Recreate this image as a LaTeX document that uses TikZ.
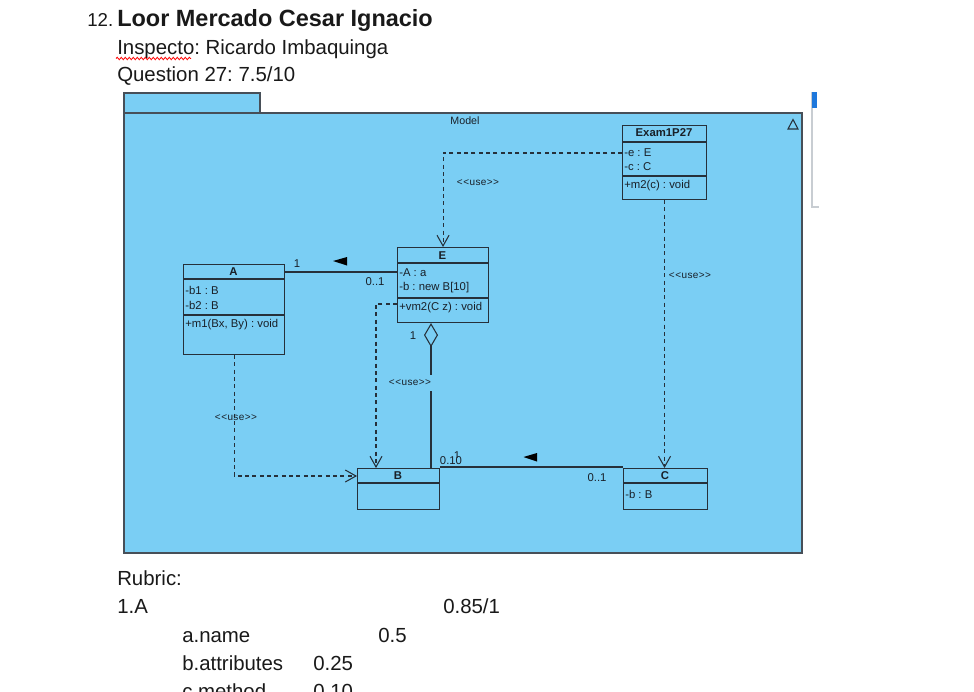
\documentclass[tikz,border=0pt]{standalone}
\usepackage{fontspec}
\setmainfont{Liberation Sans}
\usetikzlibrary{arrows.meta,calc,decorations.pathmorphing}
\definecolor{pkgblue}{RGB}{122,206,244}
\definecolor{linecol}{RGB}{38,48,58}
\definecolor{txtcol}{RGB}{25,32,40}
\definecolor{pagetxt}{RGB}{25,25,25}
\definecolor{panelblue}{RGB}{30,120,220}
\definecolor{panelgray}{RGB}{200,205,210}
\newcommand{\uselabeltext}{<\kern0.4pt<\kern0.4pt u\kern0.2pt s\kern0.2pt e\kern0.4pt>\kern0.4pt>}
\frenchspacing
\begin{document}
\begin{tikzpicture}[x=0.75pt,y=-0.75pt,
  classbox/.style={draw=linecol, line width=0.8pt, fill=pkgblue, inner sep=0pt, anchor=north west},
  sepline/.style={draw=linecol, line width=0.8pt},
  cname/.style={font=\fontsize{8.5}{10}\selectfont\bfseries, text=txtcol, inner sep=0pt},
  attr/.style={font=\fontsize{8.5}{10}\selectfont, text=txtcol, inner sep=0pt, anchor=west},
  lbl/.style={font=\fontsize{8.5}{10}\selectfont, text=txtcol, inner sep=0pt},
  uselbl/.style={font=\fontsize{7.5}{9}\selectfont, text=txtcol, inner sep=0pt},
  dep/.style={draw=linecol, line width=0.8pt, dash pattern=on 3pt off 2.5pt, -{Straight Barb[length=8pt,width=9pt,line width=0.8pt]}},
  assoc/.style={draw=linecol, line width=0.8pt},
  dirtri/.style={fill=black},
  pagetext/.style={font=\fontsize{15.3}{18}\selectfont, text=pagetxt, inner sep=0pt, anchor=base west},
]
\useasboundingbox (0,0) rectangle (974,692);
\clip (0,0) rectangle (974,692);
\fill[white] (0,0) rectangle (974,692);

% header text
\node[pagetext, font=\fontsize{14}{18}\selectfont] (num) at (87,27) {12.};
\node[pagetext, font=\fontsize{17.6}{20}\selectfont\bfseries] (title) at (117,27) {Loor Mercado Cesar Ignacio};
\node[pagetext] (insp) at (117,55) {Inspecto: Ricardo Imbaquinga};
\draw[red, line width=0.6pt, decorate, decoration={snake, amplitude=0.9pt, segment length=3pt}] (116,58.5) -- (191,58.5);
\node[pagetext] (quest) at (117,81) {Question 27: 7.5/10};

% side panel fragment
\draw[panelgray, line width=0.8pt] (812,92) -- (812,207) -- (819,207);
\fill[panelblue] (812,92) rectangle (817,108);

% package
\draw[draw=linecol!85, line width=0.8pt, fill=pkgblue] (124,93) rectangle (260,113);
\draw[draw=linecol!85, line width=0.8pt, fill=pkgblue] (124,113) rectangle (802,553);
\node[font=\fontsize{8}{10}\selectfont, text=txtcol, inner sep=0pt] (model) at (465,121) {Model};
\draw[linecol, line width=0.8pt] (788,129) -- (798,129) -- (793,119.5) -- cycle;

% class Exam1P27
\node[classbox, minimum width=63pt, minimum height=55.5pt] (ex) at (622,125) {};
\draw[sepline] ($(ex.north west)+(0,17)$) -- ($(ex.north east)+(0,17)$);
\draw[sepline] ($(ex.north west)+(0,51)$) -- ($(ex.north east)+(0,51)$);
\node[cname] (exn) at (664,133) {Exam1P27};
\node[attr] (ex1) at (624,153) {-e : E};
\node[attr] (ex2) at (624,167) {-c : C};
\node[attr] (ex3) at (624,186) {+m2(c) : void};

% class E
\node[classbox, minimum width=68.25pt, minimum height=56.25pt] (E) at (397,247) {};
\draw[sepline] ($(E.north west)+(0,16)$) -- ($(E.north east)+(0,16)$);
\draw[sepline] ($(E.north west)+(0,51)$) -- ($(E.north east)+(0,51)$);
\node[cname] (En) at (442.5,255.5) {E};
\node[attr] (E1) at (399,273) {-A : a};
\node[attr] (E2) at (399,288) {-b : new B[10]};
\node[attr] (E3) at (399,308) {+vm2(C z) : void};

% class A
\node[classbox, minimum width=75.75pt, minimum height=67.5pt] (A) at (183,264) {};
\draw[sepline] ($(A.north west)+(0,15)$) -- ($(A.north east)+(0,15)$);
\draw[sepline] ($(A.north west)+(0,51)$) -- ($(A.north east)+(0,51)$);
\node[cname] (An) at (233.5,271.5) {A};
\node[attr] (A1) at (185,290) {-b1 : B};
\node[attr] (A2) at (185,305) {-b2 : B};
\node[attr] (A3) at (185,325) {+m1(Bx, By) : void};

% class B
\node[classbox, minimum width=61.5pt, minimum height=30.75pt] (B) at (357,468) {};
\draw[sepline] ($(B.north west)+(0,15)$) -- ($(B.north east)+(0,15)$);
\node[cname] (Bn) at (398,476) {B};

% class C
\node[classbox, minimum width=63pt, minimum height=30.75pt] (C) at (623,468) {};
\draw[sepline] ($(C.north west)+(0,15)$) -- ($(C.north east)+(0,15)$);
\node[cname] (Cn) at (665,476) {C};
\node[attr] (C1) at (625,494) {-b : B};

% association A - E
\draw[assoc] ($(A.north east)+(0,8)$) -- ($(E.north west)+(0,25)$);
\fill[dirtri] (333,261) -- (347,257) -- (347,265.5) -- cycle;
\node[lbl] (m1) at (297,263.5) {1};
\node[lbl] (m2) at (375,282) {0..1};

% dependency Exam1P27 -> E
\draw[dep] ($(ex.north west)+(0,28)$) -| (E.north);
\node[uselbl] (u1) at (478,183) {\uselabeltext};

% dependency Exam1P27 -> C
\draw[dep] (ex.south) -- (ex.south |- C.north);
\node[uselbl] (u2) at (690,276) {\uselabeltext};

% dependency E -> B
\draw[dep] ($(E.north west)+(0,57)$) -| ($(B.north west)+(19,0)$);

% aggregation E - B
\draw[assoc, {Diamond[open, length=18pt, width=10.5pt, line width=0.8pt]}-] ($(E.south west)+(34,0)$) -- ($(B.north west)+(74,0)$);
\node[lbl] (m3) at (413,336) {1};
\node[uselbl, fill=pkgblue, inner xsep=1pt, inner ysep=4pt] (u3) at (410,383) {\uselabeltext};

% dependency A -> B
\draw[dep] (A.south) |- ($(B.north west)+(0,8)$);
\node[uselbl] (u4) at (236,418) {\uselabeltext};

% association B - C
\draw[assoc] ($(B.north east)+(0,-1)$) -- ($(C.north west)+(0,-1)$);
\fill[dirtri] (523.5,457) -- (537,453) -- (537,461.5) -- cycle;
\node[lbl] (m4) at (451,461) {0.10};
\begin{scope}
  \clip (453,450) rectangle (462,457.5);
  \node[lbl] (m4b) at (457,456) {1};
\end{scope}
\node[lbl] (m5) at (597,478) {0..1};

% rubric
\node[pagetext] (rub) at (117,585) {Rubric:};
\node[pagetext] (r1) at (117,613) {1.A};
\node[pagetext] (r1s) at (443,613) {0.85/1};
\node[pagetext] (ra) at (182,642) {a.name};
\node[pagetext] (ras) at (378,642) {0.5};
\node[pagetext] (rb) at (182,670) {b.attributes};
\node[pagetext] (rbs) at (313,670) {0.25};
\node[pagetext] (rc) at (182,698) {c.method};
\node[pagetext] (rcs) at (313,698) {0.10};
\end{tikzpicture}
\end{document}
